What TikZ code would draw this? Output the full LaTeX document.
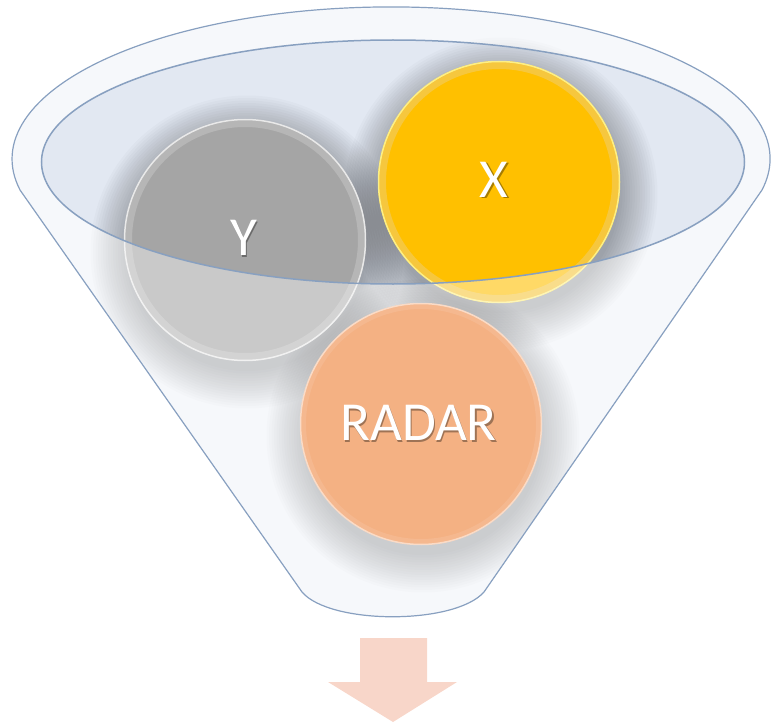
\documentclass[tikz,border=0pt]{standalone}
\usepackage{fontspec}
\setmainfont{Carlito}
\definecolor{rimline}{HTML}{88A0C0}
\definecolor{bodyfill}{HTML}{F1F4F9}
\definecolor{innerfill}{HTML}{E2E8F2}
\definecolor{ygray}{HTML}{A5A5A5}
\definecolor{yring}{HTML}{B6B6B6}
\definecolor{xgold}{HTML}{FFC000}
\definecolor{xring}{HTML}{F6C73E}
\definecolor{rorange}{HTML}{ED7D31}
\definecolor{rring}{HTML}{EF8A45}
\definecolor{arrowpink}{HTML}{F8D6C9}
\begin{document}
\begin{tikzpicture}[x=1pt,y=-1pt,
  funnelpath/.style={insert path={(20,190) -- (302,592) .. controls (330,625) and (455,625) .. (484,592) -- (762,190) arc[start angle=11.8, end angle=-191.8, x radius=379, y radius=152] -- cycle}},
  innerell/.style={insert path={(393,162) ellipse [x radius=351.5, y radius=122]}},
  ball/.style={circle, minimum size=242pt, inner sep=0pt},
  softshadow/.style={black, opacity=0.019},
  lbl/.style={text=white, font=\fontsize{55}{60}\selectfont, inner sep=0pt, text height=34.8pt, text depth=0pt},
  lblshadow/.style={lbl, text=black, text opacity=0.35}
]
\useasboundingbox (0,0) rectangle (772,725);
% funnel body
\fill[bodyfill, funnelpath];
\fill[innerfill, innerell];
% circles, clipped inside funnel
\begin{scope}
  \clip[funnelpath];
  \foreach \cx/\cy in {245/240, 499/182, 421/424}
    \foreach \k in {0,...,15}
      \fill[softshadow] (\cx+2,\cy+12) circle[radius=119+2.5*\k];
  \node[ball, fill=ygray] (ycirc) at (245,240) {};
  \node[ball, fill=xgold] (xcirc) at (499,182) {};
  \node[ball, fill=rorange] (rcirc) at (421,424) {};
  \draw[yring, line width=8pt] (ycirc.center) circle[radius=117];
  \draw[white, opacity=0.7, line width=1.5pt] (ycirc.center) circle[radius=120.5];
  \draw[xring, line width=8pt] (xcirc.center) circle[radius=117];
  \draw[yellow!40!white, opacity=0.8, line width=1.5pt] (xcirc.center) circle[radius=120.5];
  \draw[rring, line width=6pt] (rcirc.center) circle[radius=118];
  \draw[white, opacity=0.5, line width=1.5pt] (rcirc.center) circle[radius=120.5];
\end{scope}
% transparent front wall of the funnel
\fill[white, opacity=0.4, even odd rule, funnelpath, innerell];
% outlines
\draw[rimline, line width=1.2pt, line join=round, funnelpath];
\draw[rimline, line width=1.5pt, innerell];
% labels
\node[lblshadow] (yshadow) at (245,240) {Y};
\node[lbl] (ylabel) at (243.5,238.5) {Y};
\node[lblshadow] (xshadow) at (495.5,181.5) {X};
\node[lbl] (xlabel) at (494,180) {X};
\node[lblshadow] (rshadow) at (420,425) {RADAR};
\node[lbl] (rlabel) at (418.5,423.5) {RADAR};
% output arrow
\fill[arrowpink] (360,638) -- (427,638) -- (427,682) -- (457,682) -- (393,722) -- (328,682) -- (360,682) -- cycle;
\end{tikzpicture}
\end{document}
